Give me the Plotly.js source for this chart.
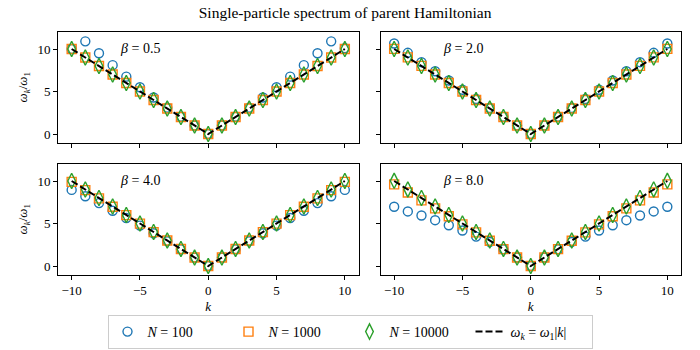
<!DOCTYPE html>
<html>
<head>
<meta charset="utf-8">
<script src="https://cdn.plot.ly/plotly-3.0.1.min.js"></script>
<style>html,body{margin:0;padding:0;background:#fff;}#chart{width:700px;height:350px;}</style>
</head>
<body>
<div id="chart"></div>
<script>
// wave numbers
const k = [-10,-9,-8,-7,-6,-5,-4,-3,-2,-1,0,1,2,3,4,5,6,7,8,9,10];

// beta = 0.5
const b05_n100   = [10.0,10.9,9.5,8.1,6.75,5.5,4.3,3.1,2.03,1.0,0,1.0,2.03,3.1,4.3,5.5,6.75,8.1,9.5,10.9,10.1];
const b05_n1000  = [10,9,8,7,6,5,4,3,2,1,0,1,2,3,4,5,6,7,8,9,10];
const b05_n10000 = [10,9,8,7,6,5,4,3,2,1,0,1,2,3,4,5,6,7,8,9,10];
// beta = 2.0
const b20_n100   = [10.65,9.55,8.45,7.38,6.3,5.2,4.12,3.06,2.03,1.01,0,1.01,2.03,3.06,4.12,5.2,6.3,7.38,8.45,9.55,10.65];
const b20_n1000  = [10.02,9.01,8.01,7.0,6.0,5.0,4.0,3.0,2.0,1.0,0,1.0,2.0,3.0,4.0,5.0,6.0,7.0,8.01,9.01,10.02];
const b20_n10000 = [10,9,8,7,6,5,4,3,2,1,0,1,2,3,4,5,6,7,8,9,10];
// beta = 4.0
const b40_n100   = [8.95,8.2,7.4,6.5,5.65,4.75,3.85,2.92,1.96,0.99,0,0.99,1.96,2.92,3.85,4.75,5.65,6.5,7.4,8.2,8.95];
const b40_n1000  = [9.9,8.93,7.95,6.97,5.98,4.99,3.99,3.0,2.0,1.0,0,1.0,2.0,3.0,3.99,4.99,5.98,6.97,7.95,8.93,9.9];
const b40_n10000 = [10,9,8,7,6,5,4,3,2,1,0,1,2,3,4,5,6,7,8,9,10];
// beta = 8.0
const b80_n100   = [6.97,6.42,5.94,5.39,4.8,4.17,3.46,2.83,1.97,1.0,0,1.0,1.97,2.83,3.46,4.17,4.8,5.39,5.94,6.42,6.97];
const b80_n1000  = [9.6,8.65,7.72,6.78,5.85,4.9,3.95,2.97,1.99,1.0,0,1.0,1.99,2.97,3.95,4.9,5.85,6.78,7.72,8.65,9.6];
const b80_n10000 = [10.02,9.01,8.0,7.0,6.0,5.0,4.0,3.0,2.0,1.0,0,1.0,2.0,3.0,4.0,5.0,6.0,7.0,8.0,9.01,10.02];
// exact dispersion
const exact = [10,9,8,7,6,5,4,3,2,1,0,1,2,3,4,5,6,7,8,9,10];

const betaLabels = ['0.5','2.0','4.0','8.0'];
const seriesNames = ['<i>N</i> = 100','<i>N</i> = 1000','<i>N</i> = 10000'];
const exactName = '<i>ω<sub>k</sub></i> = <i>ω</i><sub>1</sub>|<i>k</i>|';
const xTicks = [-10,-5,0,5,10];
const yTicks = [0,5,10];

const panels = [
  [b05_n100,b05_n1000,b05_n10000],
  [b20_n100,b20_n1000,b20_n10000],
  [b40_n100,b40_n1000,b40_n10000],
  [b80_n100,b80_n1000,b80_n10000]
];

const colors = ['#1f77b4','#ff7f0e','#2ca02c'];
const symbols = ['circle-open','square-open','diamond-tall-open'];
const sizes = [9,9,11];

const FONT = "'Liberation Serif', 'DejaVu Serif', serif";
const traces = [];
panels.forEach((p,i)=>{
  const xa = i===0 ? 'x' : 'x'+(i+1);
  const ya = i===0 ? 'y' : 'y'+(i+1);
  p.forEach((vals,j)=>{
    traces.push({
      x:k, y:vals, xaxis:xa, yaxis:ya, type:'scatter', mode:'markers',
      name:seriesNames[j], legendgroup:'g'+j, showlegend:i===0,
      marker:{symbol:symbols[j], size:sizes[j], color:colors[j], line:{width:1.4, color:colors[j]}}
    });
  });
  traces.push({
    x:k, y:exact, xaxis:xa, yaxis:ya, type:'scatter', mode:'lines',
    name:exactName, legendgroup:'g3', showlegend:i===0,
    line:{color:'black', width:2, dash:'7px,3px'}
  });
});

const colX = [[58/700, 358.5/700],[380.5/700, 681/700]];
const rowY = [[1-142.5/350, 1-32/350],[1-274.5/350, 1-164/350]];

const layout = {
  width:700, height:350,
  margin:{l:0,r:0,t:0,b:0},
  paper_bgcolor:'white', plot_bgcolor:'white',
  font:{family:FONT, size:13, color:'black'},
  showlegend:true,
  title:{text:'Single-particle spectrum of parent Hamiltonian', x:0.493, xanchor:'center', y:1-13/350, yanchor:'middle', font:{family:FONT, size:15.5, color:'black'}},
  legend:{orientation:'h', x:0.5, xanchor:'center', y:1-315/350, yanchor:'top',
    bordercolor:'#cccccc', borderwidth:1, bgcolor:'white', font:{family:FONT, size:14},
    entrywidth:76, entrywidthmode:'pixels', itemwidth:30},
  annotations:[]
};

for(let i=0;i<4;i++){
  const r = Math.floor(i/2), c = i%2;
  const sx = i===0 ? '' : String(i+1);
  const xa = {
    domain:colX[c], range:[-11,11], tickvals:xTicks, showticklabels:r===1,
    ticks:'outside', ticklen:4, tickwidth:1, tickcolor:'black',
    showline:true, mirror:true, linecolor:'black', linewidth:1,
    showgrid:false, zeroline:false, anchor:'y'+sx,
    tickfont:{family:FONT, size:13}
  };
  if(r===1) xa.title = {text:'<i>k</i>', font:{family:FONT, size:13}, standoff:4};
  const ya = {
    domain:rowY[r], range:[-1,12], tickvals:yTicks, showticklabels:c===0,
    ticks:'outside', ticklen:4, tickwidth:1, tickcolor:'black',
    showline:true, mirror:true, linecolor:'black', linewidth:1,
    showgrid:false, zeroline:false, anchor:'x'+sx,
    tickfont:{family:FONT, size:13}
  };
  if(c===0) ya.title = {text:'<i>ω<sub>k</sub></i>/<i>ω</i><sub>1</sub>', font:{family:FONT, size:13}, standoff:6};
  layout['xaxis'+sx] = xa;
  layout['yaxis'+sx] = ya;
  layout.annotations.push({
    xref:'x'+sx+' domain', yref:'y'+sx+' domain', x:0.2, y:0.85,
    xanchor:'left', yanchor:'middle', showarrow:false,
    text:'<i>β</i> = '+betaLabels[i], font:{family:FONT, size:14, color:'black'}
  });
}

Plotly.newPlot('chart', traces, layout, {staticPlot:true});
</script>
</body>
</html>
